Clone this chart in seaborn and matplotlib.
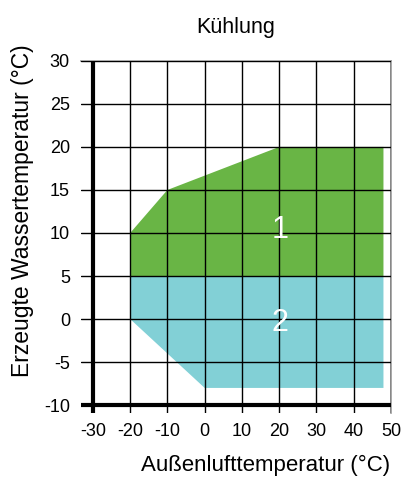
import numpy as np
import pandas as pd
import matplotlib.pyplot as plt
import seaborn as sns

# --- Data: operating envelope (cooling) ---
zone1_x = [-20, -20, -10, 20, 48, 48]
zone1_y = [5, 10, 15, 20, 20, 5]
zone2_x = [-20, -20, 0, 48, 48]
zone2_y = [5, 0, -8, -8, 5]
zone_labels = ["1", "2"]
label_pos_x = [20.3, 20.3]
label_pos_y = [10.3, -0.4]
x_ticks = [-30, -20, -10, 0, 10, 20, 30, 40, 50]
y_ticks = [-10, -5, 0, 5, 10, 15, 20, 25, 30]

sns.set_style("white")
plt.rcParams['font.family'] = ['Liberation Sans Narrow', 'Liberation Sans', 'DejaVu Sans']
plt.rcParams['text.color'] = 'black'
plt.rcParams['axes.labelcolor'] = 'black'
plt.rcParams['xtick.color'] = 'black'
plt.rcParams['ytick.color'] = 'black'

fig = plt.figure(figsize=(4.03, 4.79), dpi=100)
ax = fig.add_axes([0.201, 0.138, 0.769, 0.735])

df1 = pd.DataFrame({"x": zone1_x, "y": zone1_y})
df2 = pd.DataFrame({"x": zone2_x, "y": zone2_y})
ax.fill(df1["x"], df1["y"], color="#69b545", lw=0, zorder=1)
ax.fill(df2["x"], df2["y"], color="#82d0d6", lw=0, zorder=1)

for lab, lx, ly in zip(zone_labels, label_pos_x, label_pos_y):
    ax.text(lx, ly, lab, color="white", fontsize=22, ha="center", va="center", zorder=3)

ax.set_xlim(-33.2, 50)
ax.set_ylim(-10.9, 30)
ax.set_xticks(x_ticks)
ax.set_yticks(y_ticks)
ax.set_xticklabels([str(t) for t in x_ticks])
ax.set_yticklabels([str(t) for t in y_ticks])
ax.grid(True, color="black", lw=1, zorder=2)
ax.set_axisbelow(False)
ax.axvline(-30, color="black", lw=3, zorder=4)
ax.axhline(-10, color="black", lw=3, zorder=4)

for side in ["left", "bottom"]:
    ax.spines[side].set_visible(False)
for side in ["top", "right"]:
    ax.spines[side].set_color("#999999")
    ax.spines[side].set_linewidth(1.2)

ax.tick_params(axis="both", labelsize=13, length=0)
ax.tick_params(axis="y", pad=8)
ax.tick_params(axis="x", pad=7)
ax.set_xlabel("Außenlufttemperatur (°C)", fontsize=16)
ax.xaxis.set_label_coords(0.595, -0.148)
ax.xaxis.label.set_va("center")
ax.set_ylabel("Erzeugte Wassertemperatur (°C)", fontsize=16.5)
ax.yaxis.set_label_coords(-0.19, 0.574)
ax.yaxis.label.set_va("center")
ax.set_title("Kühlung", fontsize=15.5, pad=20)

fig.savefig("out.png", dpi=100)
